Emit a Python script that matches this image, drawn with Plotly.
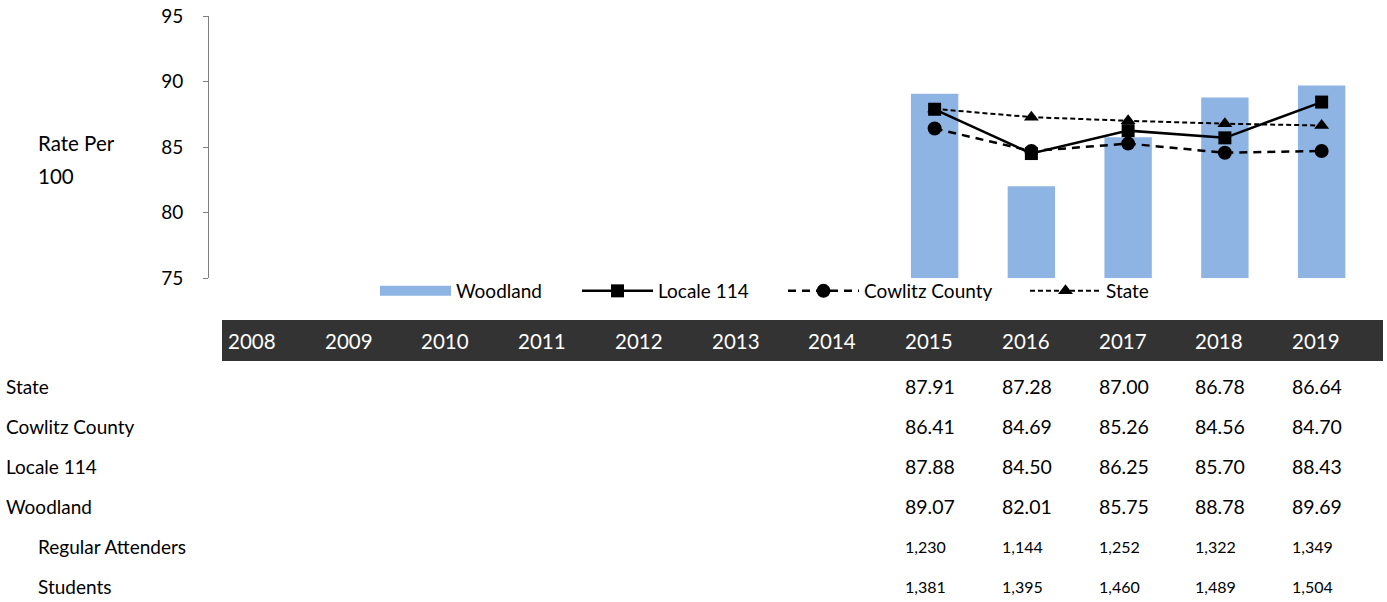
import plotly.graph_objects as go

# ---------------- data ----------------
years = [str(y) for y in range(2008, 2020)]
state = [None]*7 + [87.91, 87.28, 87.00, 86.78, 86.64]
cowlitz = [None]*7 + [86.41, 84.69, 85.26, 84.56, 84.70]
locale = [None]*7 + [87.88, 84.50, 86.25, 85.70, 88.43]
woodland = [None]*7 + [89.07, 82.01, 85.75, 88.78, 89.69]
regular_attenders = [None]*7 + [1230, 1144, 1252, 1322, 1349]
students = [None]*7 + [1381, 1395, 1460, 1489, 1504]
y_ticks = [75, 80, 85, 90, 95]

FONT = "Lato"
BAR_COLOR = "#8EB4E3"

W, H = 1387, 602
PLOT_L, PLOT_R, PLOT_T, PLOT_B = 209, 1370, 16, 278  # screen pixels
L, T, R, B = PLOT_L, PLOT_T, W - PLOT_R, H - PLOT_B
plot_h = PLOT_B - PLOT_T
plot_w = PLOT_R - PLOT_L


def py(s):
    """screen pixel row -> paper y"""
    return (PLOT_B - s) / plot_h


def px(s):
    """screen pixel column -> paper x"""
    return (s - PLOT_L) / plot_w


fig = go.Figure()
fig.add_trace(go.Bar(x=years, y=woodland, name="Woodland", showlegend=False,
                     legendgroup="wood",
                     marker=dict(color=BAR_COLOR, line=dict(width=0)), width=0.49))
# legend entry for the bar series (wide patch like the original)
fig.add_trace(go.Scatter(x=years, y=[None]*len(years), name="Woodland", mode="lines",
                         legendgroup="wood", legend="legend",
                         line=dict(color=BAR_COLOR, width=14)))
fig.add_trace(go.Scatter(x=years, y=locale, name="Locale 114", mode="lines+markers",
                         legend="legend2",
                         line=dict(color="black", width=2.5),
                         marker=dict(symbol="square", size=13, color="black")))
fig.add_trace(go.Scatter(x=years, y=cowlitz, name="Cowlitz County", mode="lines+markers",
                         legend="legend3",
                         line=dict(color="black", width=2.5, dash="8px,6px"),
                         marker=dict(symbol="circle", size=14, color="black")))
fig.add_trace(go.Scatter(x=years, y=state, name="State", mode="lines+markers",
                         legend="legend4",
                         line=dict(color="black", width=2, dash="5px,3px"),
                         marker=dict(symbol="triangle-up", size=13, color="black")))

# header band of the table (columns start 13px right of each category band)
COL_SHIFT = -31.5  # text offset from category centre in px
fig.add_shape(type="rect", xref="paper", yref="paper", x0=px(222), x1=px(1383),
              y0=py(361), y1=py(320), fillcolor="#333333", line=dict(width=0), layer="below")

annotations = []
for i, yr in enumerate(years):
    annotations.append(dict(x=i, xref="x", y=py(341), yref="paper", text=yr,
                            showarrow=False, xanchor="left", yanchor="middle",
                            xshift=COL_SHIFT,
                            font=dict(family=FONT, size=20.5, color="white")))

rows = [
    ("State", state, "{:.2f}", 4, 19.5),
    ("Cowlitz County", cowlitz, "{:.2f}", 4, 19.5),
    ("Locale 114", locale, "{:.2f}", 4, 19.5),
    ("Woodland", woodland, "{:.2f}", 4, 19.5),
    ("Regular Attenders", regular_attenders, "{:,}", 36, 16),
    ("Students", students, "{:,}", 36, 16),
]
row_centres = [386, 426, 466, 506, 546, 586]
for (label, vals, fmt, lx, fs), yc in zip(rows, row_centres):
    annotations.append(dict(x=px(lx), xref="paper", y=py(yc), yref="paper", text=label,
                            showarrow=False, xanchor="left", yanchor="middle",
                            font=dict(family=FONT, size=19, color="black")))
    for i, v in enumerate(vals):
        if v is None:
            continue
        annotations.append(dict(x=i, xref="x", y=py(yc), yref="paper", text=fmt.format(v),
                                showarrow=False, xanchor="left", yanchor="middle",
                                xshift=COL_SHIFT,
                                font=dict(family=FONT, size=fs, color="black")))

for txt, yc in (("Rate Per", 143), ("100", 176)):
    annotations.append(dict(x=px(36), xref="paper", y=py(yc), yref="paper",
                            text=txt, showarrow=False, xanchor="left", yanchor="middle",
                            font=dict(family=FONT, size=20.5, color="black")))


def legend_at(x_screen, sym_off):
    return dict(orientation="h", xref="container", yref="container",
                x=(x_screen - sym_off) / W, xanchor="left",
                y=1 - 291 / H, yanchor="middle",
                itemwidth=71, font=dict(family=FONT, size=19, color="black"),
                bgcolor="rgba(0,0,0,0)", borderwidth=0)


fig.update_layout(
    width=W, height=H,
    margin=dict(l=L, r=R, t=T, b=B, pad=0, autoexpand=False),
    plot_bgcolor="white", paper_bgcolor="white",
    font=dict(family=FONT, size=19, color="black"),
    showlegend=True,
    legend=legend_at(380, 5),
    legend2=legend_at(580, 3),
    legend3=legend_at(788, 5),
    legend4=legend_at(1030, 5),
    annotations=annotations,
)
fig.update_xaxes(type="category", showticklabels=False, showline=False, ticks="",
                 showgrid=False, zeroline=False, range=[-0.5, len(years) - 0.5])
fig.update_yaxes(range=[75, 95], tickvals=y_ticks, showgrid=False, zeroline=False,
                 showline=True, linecolor="#7f7f7f", linewidth=1, ticks="outside",
                 ticklen=5, tickcolor="#7f7f7f", ticklabelstandoff=16,
                 ticklabeloverflow="allow",
                 tickfont=dict(family=FONT, size=19, color="black"))

fig.write_html("out.html", config={"displayModeBar": False},
               post_script="document.body.style.margin='0';")
